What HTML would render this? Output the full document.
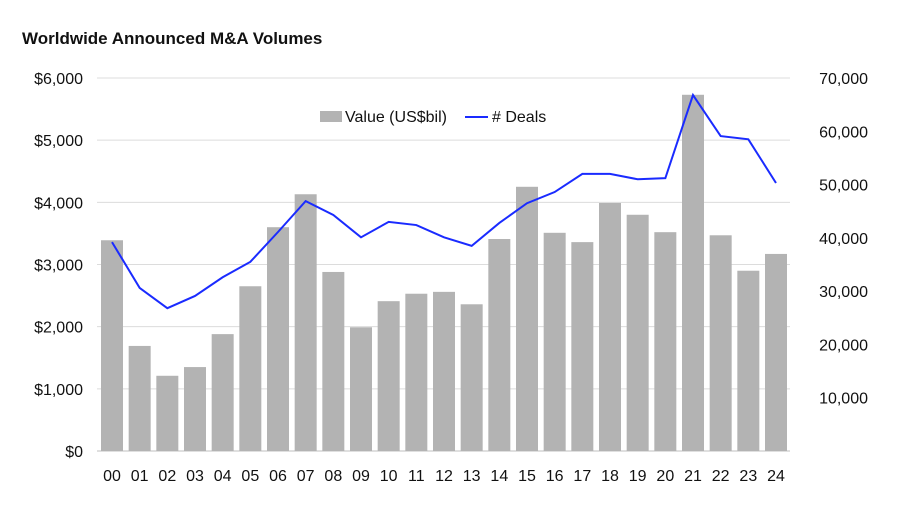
<!DOCTYPE html>
<html><head><meta charset="utf-8"><style>
body{margin:0;background:#fff;width:900px;height:518px;overflow:hidden;font-family:"Liberation Sans",sans-serif}
svg text{font-family:"Liberation Sans",sans-serif}
</style></head><body>
<svg id="chart" width="900" height="518">
<text x="22" y="44" font-size="17" font-weight="bold" fill="#111">Worldwide Announced M&amp;A Volumes</text>
<g id="grid"></g><g id="bars"></g><g id="line"></g><g id="axes"></g>
<g>
<rect x="320" y="111" width="22" height="11" fill="#b3b3b3"/>
<text x="345" y="122" font-size="16" fill="#111">Value (US$bil)</text>
<line x1="465" y1="117" x2="488" y2="117" stroke="#1a2bff" stroke-width="2"/>
<text x="492" y="122" font-size="16" fill="#111"># Deals</text>
</g>
</svg>
<script>
const categories=["00","01","02","03","04","05","06","07","08","09","10","11","12","13","14","15","16","17","18","19","20","21","22","23","24"];
const values=[3390,1690,1210,1350,1880,2650,3600,4130,2880,1990,2410,2530,2560,2360,3410,4250,3510,3360,3990,3800,3520,5730,3470,2900,3170];
const deals=[39200,30600,26800,29100,32600,35500,41100,46900,44300,40100,43000,42400,40100,38500,42800,46500,48600,52000,52000,51000,51200,66800,59100,58500,50300];
const leftTicks=[0,1000,2000,3000,4000,5000,6000];
const leftLabels=["$0","$1,000","$2,000","$3,000","$4,000","$5,000","$6,000"];
const rightTicks=[10000,20000,30000,40000,50000,60000,70000];
const rightLabels=["10,000","20,000","30,000","40,000","50,000","60,000","70,000"];
const NS="http://www.w3.org/2000/svg";
const y0=451,yTop=78,xFirst=112,xLast=776;
const yL=v=>y0-(v/6000)*(y0-yTop);
const yR=v=>y0-(v/70000)*(y0-yTop);
const x=i=>xFirst+i*(xLast-xFirst)/(categories.length-1);
function mk(t,a,p){const e=document.createElementNS(NS,t);for(const k in a)e.setAttribute(k,a[k]);p.appendChild(e);return e;}
const grid=document.getElementById('grid'),bars=document.getElementById('bars'),line=document.getElementById('line'),axes=document.getElementById('axes');
leftTicks.forEach((v,i)=>{
 const g=mk('line',{x1:97,x2:790,y1:yL(v),y2:yL(v),stroke:i==0?'#bfbfbf':'#dcdcdc','stroke-width':1},grid);
 
 
 const t=mk('text',{x:83,y:yL(v)+6,'font-size':16,'text-anchor':'end',fill:'#111'},axes);
 t.textContent=leftLabels[i];
 
 
});
rightTicks.forEach((v,i)=>{
 const t=mk('text',{x:868,y:yR(v)+6,'font-size':16,'text-anchor':'end',fill:'#111'},axes);
 t.textContent=rightLabels[i];
 
 
});
categories.forEach((c,i)=>{
 const b=mk('rect',{x:x(i)-11,y:yL(values[i]),width:22,height:y0-yL(values[i]),fill:'#b3b3b3'},bars);
 
 
 const t=mk('text',{x:x(i),y:481,'font-size':16,'text-anchor':'middle',fill:'#111'},axes);
 t.textContent=c;
 
 
});
const p=mk('polyline',{points:deals.map((d,i)=>x(i)+','+yR(d)).join(' '),fill:'none',stroke:'#1a2bff','stroke-width':2},line);


</script>
</body></html>
